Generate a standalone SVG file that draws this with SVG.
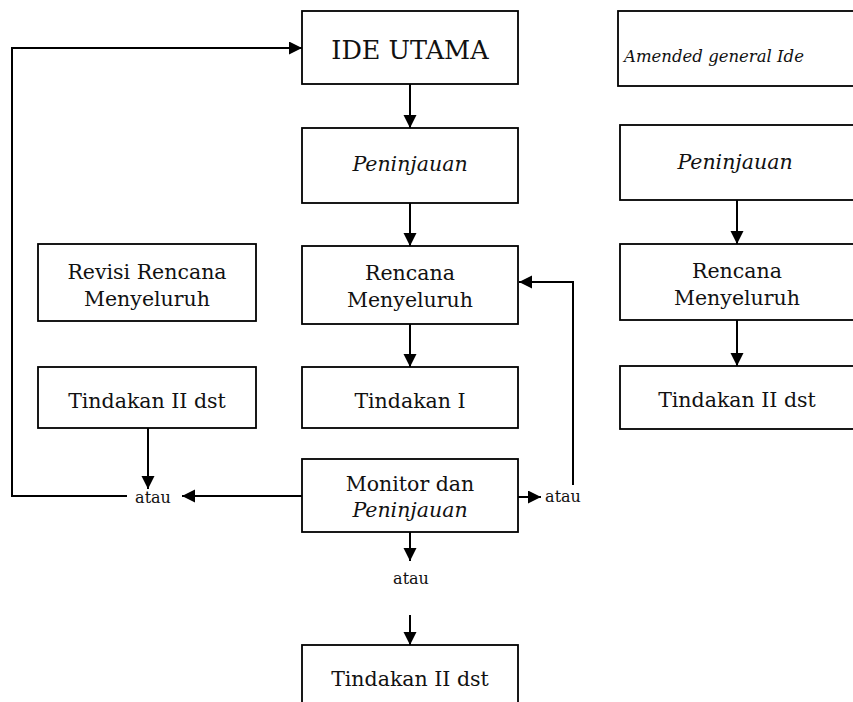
<svg xmlns="http://www.w3.org/2000/svg" width="853" height="702" viewBox="0 0 853 702">
<style>
.box{fill:#fff;stroke:#000;stroke-width:1.8}
.t{font-family:"DejaVu Serif","Liberation Serif",serif;font-size:20.5px;fill:#111;text-anchor:middle}
.i{font-style:italic}
.big{font-size:25.5px}
.sm{font-size:16px}
.am{font-size:16.5px}
.c{fill:none;stroke:#000;stroke-width:2}
</style>
<defs>
<marker id="ah" markerUnits="userSpaceOnUse" markerWidth="14" markerHeight="14" refX="13" refY="6.5" orient="auto">
<path d="M0,0 L13,6.5 L0,13 z" fill="#000"/>
</marker>
</defs>
<rect width="853" height="702" fill="#fff"/>
<g id="connectors">
<path class="c" d="M410,84 V128" marker-end="url(#ah)"/>
<path class="c" d="M410,203 V246" marker-end="url(#ah)"/>
<path class="c" d="M410,324 V367" marker-end="url(#ah)"/>
<path class="c" d="M410,532 V561" marker-end="url(#ah)"/>
<path class="c" d="M410,615 V645" marker-end="url(#ah)"/>
<path class="c" d="M302,496 H182" marker-end="url(#ah)"/>
<path class="c" d="M518,497 H541" marker-end="url(#ah)"/>
<path class="c" d="M573,485 V282 H519" marker-end="url(#ah)"/>
<path class="c" d="M148,427 V489" marker-end="url(#ah)"/>
<path class="c" d="M127,496 H12 V48 H302" marker-end="url(#ah)"/>
<path class="c" d="M737,200 V244" marker-end="url(#ah)"/>
<path class="c" d="M737,320 V366" marker-end="url(#ah)"/>
</g>
<g id="ide-utama"><rect class="box" x="302" y="11" width="216" height="73"/><text class="t big" x="410" y="59">IDE UTAMA</text></g>
<g id="amended"><rect class="box" x="618" y="11" width="260" height="75"/><text class="t i am" x="714" y="62">Amended general Ide</text></g>
<g id="peninjauan-1"><rect class="box" x="302" y="128" width="216" height="75"/><text class="t i" x="410" y="171">Peninjauan</text></g>
<g id="peninjauan-2"><rect class="box" x="620" y="125" width="260" height="75"/><text class="t i" x="735" y="169">Peninjauan</text></g>
<g id="revisi"><rect class="box" x="38" y="244" width="218" height="77"/><text class="t" x="147" y="279">Revisi Rencana</text><text class="t" x="147" y="306">Menyeluruh</text></g>
<g id="rencana-1"><rect class="box" x="302" y="246" width="216" height="78"/><text class="t" x="410" y="280">Rencana</text><text class="t" x="410" y="307">Menyeluruh</text></g>
<g id="rencana-2"><rect class="box" x="620" y="244" width="260" height="76"/><text class="t" x="737" y="278">Rencana</text><text class="t" x="737" y="305">Menyeluruh</text></g>
<g id="tindakan-ii-left"><rect class="box" x="38" y="367" width="218" height="61"/><text class="t" x="147" y="408">Tindakan II dst</text></g>
<g id="tindakan-i"><rect class="box" x="302" y="367" width="216" height="61"/><text class="t" x="410" y="408">Tindakan I</text></g>
<g id="tindakan-ii-right"><rect class="box" x="620" y="366" width="260" height="63"/><text class="t" x="737" y="407">Tindakan II dst</text></g>
<g id="monitor"><rect class="box" x="302" y="459" width="216" height="73"/><text class="t" x="410" y="491">Monitor dan</text><text class="t i" x="410" y="517">Peninjauan</text></g>
<g id="tindakan-ii-bottom"><rect class="box" x="302" y="645" width="216" height="70"/><text class="t" x="410" y="686">Tindakan II dst</text></g>
<g id="atau-left"><text class="t sm" x="153" y="503">atau</text></g>
<g id="atau-right"><text class="t sm" x="563" y="502">atau</text></g>
<g id="atau-center"><text class="t sm" x="411" y="584">atau</text></g>
</svg>
